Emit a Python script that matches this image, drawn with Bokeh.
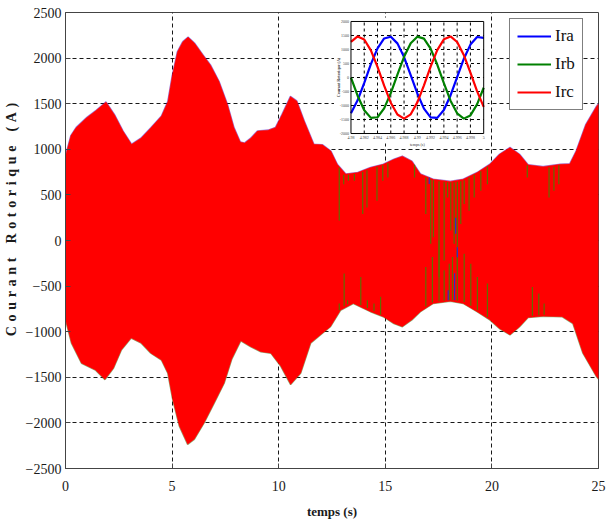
import numpy as np
from bokeh.plotting import figure
from bokeh.models import Range1d, Legend, LegendItem, FixedTicker
from bokeh.core.properties import value
from bokeh.embed import file_html
from bokeh.resources import INLINE

# ---------------- main chart data (envelope of the three rotor currents) ----------------
t_upper = [0.0, 0.25, 0.5, 1.0, 1.4, 1.9, 2.3, 2.7, 3.1, 3.55, 4.0, 4.5, 4.8, 5.0, 5.25, 5.5,
           5.75, 6.05, 6.45, 6.8, 7.2, 7.6, 7.9, 8.2, 8.4, 8.7, 9.0, 9.5, 9.85, 10.15, 10.55,
           10.85, 11.2, 11.65, 12.05, 12.45, 12.75, 13.15, 13.7, 14.3, 14.9, 15.4, 15.8, 16.25,
           16.65, 17.25, 18.05, 18.65, 19.3, 19.9, 20.35, 20.85, 21.3, 21.7, 22.4, 23.2, 23.65,
           23.95, 24.4, 24.9, 25.0]
i_upper = [930, 1150, 1240, 1350, 1420, 1520, 1380, 1200, 1055, 1125, 1235, 1365, 1525, 1800,
           2070, 2180, 2230, 2165, 2035, 1925, 1745, 1490, 1240, 1080, 1070, 1125, 1200, 1210,
           1240, 1380, 1580, 1530, 1310, 1055, 1050, 980, 835, 730, 745, 800, 835, 890, 925,
           870, 730, 672, 648, 672, 745, 836, 945, 1020, 945, 830, 810, 836, 840, 980, 1270,
           1470, 1500]
t_lower = [0.0, 0.28, 0.75, 1.4, 1.85, 2.25, 2.62, 3.08, 3.55, 4.0, 4.5, 4.8, 5.03, 5.34, 5.73,
           6.04, 6.5, 6.98, 7.44, 7.8, 8.22, 8.69, 9.16, 9.63, 10.1, 10.56, 11.03, 11.5, 11.96,
           12.43, 12.9, 13.5, 14.3, 14.9, 15.4, 15.8, 16.25, 16.65, 17.25, 18.05, 18.65, 19.3,
           19.9, 20.35, 20.85, 21.3, 21.7, 22.4, 23.3, 23.8, 24.27, 24.9, 25.0]
i_lower = [-870, -1125, -1345, -1420, -1525, -1400, -1200, -1070, -1125, -1235, -1310, -1455,
           -1745, -2035, -2235, -2180, -2000, -1780, -1565, -1300, -1100, -1165, -1220, -1235,
           -1380, -1580, -1455, -1125, -1035, -945, -765, -690, -780, -835, -910, -945, -870,
           -780, -690, -665, -690, -780, -870, -965, -1035, -945, -845, -830, -836, -910, -1235,
           -1490, -1520]

# aliasing strokes visible inside the envelope (time, start, end)
spike_top_t = [12.84, 13.05, 13.27, 13.55, 13.94, 14.14, 14.61, 14.88, 15.12, 16.37, 16.90,
               17.13, 17.26, 17.52, 17.76, 17.92, 18.07, 18.23, 18.38, 18.54, 18.70, 18.93,
               19.17, 19.48, 19.79, 21.66, 22.68, 22.91, 23.14]
spike_top_from = [800, 720, 720, 730, 750, 770, 805, 825, 850, 830, 690, 670, 660, 650, 645,
                  640, 638, 640, 645, 650, 660, 690, 720, 760, 810, 825, 800, 810, 825]
spike_top_to = [218, 618, 654, 654, 291, 363, 436, 654, 690, 690, 291, -36, 36, -400, -218,
                472, 109, -36, -327, 182, 400, 327, 472, 545, 618, 690, 472, 545, 618]
spike_bot_t = [12.84, 13.07, 13.23, 13.85, 14.16, 14.47, 14.78, 16.90, 17.21, 17.52, 17.76,
               18.00, 18.15, 18.38, 18.70, 19.01, 19.32, 19.79, 21.90, 22.20, 22.45]
spike_bot_from = [-765, -720, -700, -710, -740, -775, -815, -725, -680, -665, -660, -655, -655,
                  -660, -675, -715, -765, -840, -825, -820, -815]
spike_bot_to = [-690, -363, -654, -400, -654, -690, -618, -291, -182, 0, -327, -254, -182,
                -109, -145, -254, -400, -472, -509, -581, -690]
spike_blue_t = [18.30, 18.38, 17.95, 18.25, 17.06]
spike_blue_from = [250, -75, -545, -360, 690]
spike_blue_to = [75, -185, -655, -655, 620]

x_ticks = [0, 5, 10, 15, 20, 25]
y_ticks = [-2500, -2000, -1500, -1000, -500, 0, 500, 1000, 1500, 2000, 2500]

# ---------------- inset data (zoom on the three phases) ----------------
inset_t = [4.980, 4.981, 4.982, 4.983, 4.984, 4.985, 4.986, 4.987, 4.988, 4.989, 4.990,
           4.991, 4.992, 4.993, 4.994, 4.995, 4.996, 4.997, 4.998, 4.999, 5.000]
ira = [-1273, -816, -190, 475, 1042, 1393, 1457, 1219, 730, 89, -570, -1111, -1422, -1440,
       -1159, -640, 12, 662, 1175, 1445, 1416]
irb = [0, -651, -1167, -1442, -1419, -1103, -558, 102, 740, 1226, 1458, 1389, 1033, 463,
       -203, -826, -1279, -1468, -1353, -958, -366]
irc = [1273, 1467, 1358, 968, 377, -291, -899, -1321, -1470, -1315, -889, -278, 389, 977,
       1362, 1466, 1267, 806, 178, -486, -1050]
inset_x_ticks = [4.98, 4.982, 4.984, 4.986, 4.988, 4.99, 4.992, 4.994, 4.996, 4.998, 5.0]
inset_x_labels = ["4.98", "4.982", "4.984", "4.986", "4.988", "4.99", "4.992", "4.994",
                  "4.996", "4.998", "5"]
inset_y_ticks = [-2000, -1500, -1000, -500, 0, 500, 1000, 1500, 2000]
inset_y_labels = ["-2000", "-1500", "-1000", "-500", "0", "500", "1000", "1500", "2000"]

SERIF = "'Liberation Serif'"
BLUE, GREEN, RED = "#0000ff", "#008000", "#ff0000"
SP = "\u2004"
ylabel = (SP * 9 + SP.join("Courant") + SP * 3 + SP.join("Rotorique") + SP * 3
          + SP.join("(A)"))

p = figure(width=608, height=522, x_range=Range1d(0, 25), y_range=Range1d(-2500, 2500),
           output_backend="svg", toolbar_location=None,
           min_border_left=64, min_border_right=10, min_border_top=12, min_border_bottom=54)
p.background_fill_color = "white"
p.border_fill_color = "white"
p.outline_line_color = "#444444"
p.outline_line_width = 1

# axes
for ax, ticks in ((p.xaxis, x_ticks), (p.yaxis, y_ticks)):
    ax.ticker = FixedTicker(ticks=ticks)
    ax.major_tick_in = 5
    ax.major_tick_out = 0
    ax.minor_tick_line_color = None
    ax.axis_line_color = "#444444"
    ax.major_tick_line_color = "#444444"
    ax.major_label_text_font = SERIF
    ax.major_label_text_font_size = "14px"
    ax.major_label_text_color = "#1a1a1a"
    ax.axis_label_text_font = SERIF
    ax.axis_label_text_font_style = "bold"
    ax.axis_label_text_color = "#1a1a1a"
p.xaxis.major_label_standoff = 12
p.yaxis.major_label_standoff = 4
p.xaxis.axis_label = "temps (s)"
p.xaxis.axis_label_text_font_size = "13px"
p.xaxis.axis_label_standoff = 10
p.yaxis.axis_label = ylabel
p.yaxis.axis_label_text_font_size = "14px"
p.yaxis.axis_label_standoff = 4

for g, ticks in ((p.xgrid, x_ticks), (p.ygrid, y_ticks)):
    g.ticker = FixedTicker(ticks=ticks)
    g.grid_line_color = "black"
    g.grid_line_dash = "4 3"
    g.grid_line_width = 1
    g.grid_line_alpha = 0.9

# envelope fringes + red body
p.line(t_upper, i_upper, line_color=BLUE, line_width=1.6, line_alpha=0.4)
p.line(t_lower, i_lower, line_color=GREEN, line_width=1.6, line_alpha=0.45)
env_x = list(t_upper) + list(reversed(t_lower))
env_y = list(i_upper) + list(reversed(i_lower))
p.patch(env_x, env_y, fill_color=RED, line_color=RED, line_width=0.5)

p.segment(x0=spike_top_t, y0=spike_top_from, x1=spike_top_t, y1=spike_top_to,
          line_color="#5f7000", line_width=1.2)
p.segment(x0=spike_bot_t, y0=spike_bot_from, x1=spike_bot_t, y1=spike_bot_to,
          line_color="#5f7000", line_width=1.2)
p.segment(x0=spike_blue_t, y0=spike_blue_from, x1=spike_blue_t, y1=spike_blue_to,
          line_color="#3030c0", line_width=1.2)

# ---------------- inset placed in the upper part of the frame ----------------
fx0, fx1 = 0.5356, 0.7846      # inset frame, fraction of main frame width
fy_top, fy_bot = 0.0197, 0.2654  # inset frame, fraction of main frame height (from top)
ix0, ix1 = inset_x_ticks[0], inset_x_ticks[-1]
iy0, iy1 = inset_y_ticks[0], inset_y_ticks[-1]
xspan = (ix1 - ix0) / (fx1 - fx0)
yspan = (iy1 - iy0) / (fy_bot - fy_top)
p.extra_x_ranges = {"ix": Range1d(ix0 - fx0 * xspan, ix0 - fx0 * xspan + xspan)}
p.extra_y_ranges = {"iy": Range1d(iy1 + fy_top * yspan - yspan, iy1 + fy_top * yspan)}
R = dict(x_range_name="ix", y_range_name="iy")
dxp = (ix1 - ix0) / 133.0   # data per pixel in inset
dyp = (iy1 - iy0) / 112.0

p.quad(left=ix0 - 17 * dxp, right=ix1 + 4 * dxp, bottom=iy0 - 10 * dyp, top=iy1 + 4 * dyp,
       fill_color="white", line_color=None, **R)
p.segment(x0=inset_x_ticks[1:-1], y0=[iy0] * 9, x1=inset_x_ticks[1:-1], y1=[iy1] * 9,
          line_color="black", line_dash="3 3", line_width=1, **R)
p.segment(x0=[ix0] * 7, y0=inset_y_ticks[1:-1], x1=[ix1] * 7, y1=inset_y_ticks[1:-1],
          line_color="black", line_dash="3 3", line_width=1, **R)
r_a = p.line(inset_t, ira, line_color=BLUE, line_width=2.2, **R)
r_b = p.line(inset_t, irb, line_color=GREEN, line_width=2.2, **R)
r_c = p.line(inset_t, irc, line_color=RED, line_width=2.2, **R)
p.quad(left=ix0, right=ix1, bottom=iy0, top=iy1, fill_color=None, line_color="black",
       line_width=1, **R)
p.text(x=[ix0] * 9, y=inset_y_ticks, text=inset_y_labels, x_offset=-2,
       text_align="right", text_baseline="middle", text_font=value(SERIF),
       text_font_size=value("4px"), text_color="#444444", **R)
p.text(x=inset_x_ticks, y=[iy0] * 11, text=inset_x_labels, y_offset=2,
       text_align="center", text_baseline="top", text_font=value(SERIF),
       text_font_size=value("4px"), text_color="#444444", **R)
p.text(x=[ix0], y=[0], text=["Courant Rotorique (A)"], x_offset=-12, angle=np.pi / 2,
       text_align="center", text_baseline="middle", text_font=value(SERIF),
       text_font_size=value("4px"), text_font_style="bold", text_color="#333333", **R)
p.text(x=[(ix0 + ix1) / 2], y=[iy0], text=["temps (s)"], y_offset=8,
       text_align="center", text_baseline="top", text_font=value(SERIF),
       text_font_size=value("4px"), text_color="#333333", **R)

legend = Legend(items=[LegendItem(label="Ira", renderers=[r_a]),
                       LegendItem(label="Irb", renderers=[r_b]),
                       LegendItem(label="Irc", renderers=[r_c])],
                location=(444, 358))
legend.label_text_font = SERIF
legend.label_text_font_size = "17px"
legend.label_text_color = "#111111"
legend.glyph_width = 34
legend.glyph_height = 20
legend.label_height = 20
legend.label_standoff = 4
legend.spacing = 8
legend.padding = 7
legend.margin = 0
legend.border_line_color = "black"
legend.border_line_width = 1
legend.background_fill_color = "white"
legend.background_fill_alpha = 1
p.add_layout(legend)

open("out.html", "w").write(file_html(p, INLINE))
